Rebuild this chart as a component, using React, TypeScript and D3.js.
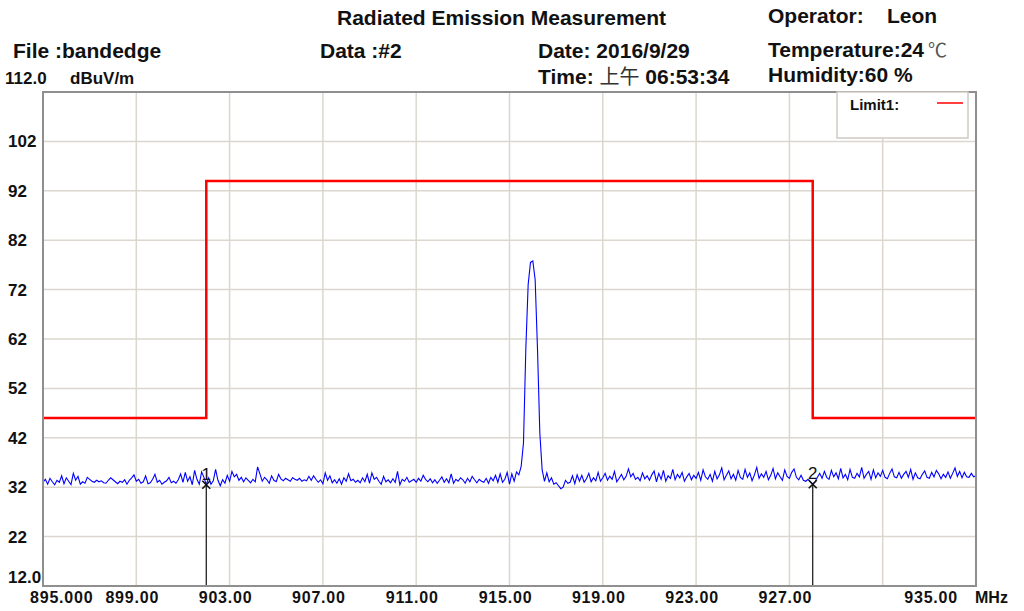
import React from 'react';
import * as d3 from 'd3';

// sweep: 895 MHz .. 935 MHz, 0.1 MHz per point
const startFreq = 895;
const stepFreq = 0.1;

const levels = [
  // 895
  33.0, 33.6, 32.6, 33.8, 33.1, 32.5, 33.4, 33.0, 34.3, 32.7,
  // 896
  33.9, 33.2, 32.5, 34.8, 33.4, 34.2, 32.6, 33.1, 32.8, 34.0,
  // 897
  33.6, 33.2, 33.0, 33.4, 33.1, 33.3, 32.9, 32.8, 33.4, 33.9,
  // 898
  33.5, 33.1, 32.7, 33.2, 33.0, 33.5, 32.6, 33.4, 33.9, 34.5,
  // 899
  33.2, 33.6, 32.8, 33.1, 34.3, 32.7, 32.9, 33.6, 34.6, 33.0,
  // 900
  33.4, 32.6, 33.0, 33.3, 34.0, 32.9, 33.2, 32.8, 33.5, 34.7,
  // 901
  33.0, 35.0, 33.2, 34.1, 32.5, 35.4, 33.6, 32.6, 35.1, 34.0,
  // 902
  32.5, 33.9, 32.6, 33.3, 35.6, 33.4, 32.3, 33.5, 32.8, 34.4,
  // 903
  33.2, 35.2, 34.1, 34.6, 33.4, 34.0, 33.1, 33.9, 33.4, 32.9,
  // 904
  33.6, 33.1, 36.1, 34.7, 33.2, 34.0, 33.5, 32.8, 34.3, 33.4,
  // 905
  33.1, 34.6, 33.7, 33.3, 33.8, 33.5, 33.2, 33.9, 33.6, 33.4,
  // 906
  33.8, 33.2, 33.5, 33.3, 34.2, 33.4, 34.3, 33.6, 33.0, 33.5,
  // 907
  32.7, 34.9, 33.4, 34.3, 32.9, 33.5, 32.8, 33.7, 32.6, 33.9,
  // 908
  33.2, 34.7, 33.3, 33.6, 33.0, 33.4, 32.9, 33.9, 33.1, 34.6,
  // 909
  32.8, 34.9, 33.6, 34.0, 33.2, 32.6, 34.2, 33.1, 33.5, 32.9,
  // 910
  33.7, 33.0, 35.2, 32.5, 33.6, 33.2, 34.0, 33.0, 33.3, 33.6,
  // 911
  33.0, 33.8, 33.2, 34.4, 33.6, 33.1, 33.7, 32.9, 33.5, 32.8,
  // 912
  33.4, 34.1, 33.0, 33.7, 32.9, 34.7, 32.8, 33.6, 33.2, 33.9,
  // 913
  33.5, 32.8, 33.8, 33.1, 34.2, 33.5, 32.9, 33.6, 33.2, 33.0,
  // 914
  33.8, 32.8, 34.0, 33.3, 34.4, 33.0, 34.7, 33.0, 33.6, 35.0,
  // 915
  32.6, 34.7, 33.2, 35.1, 34.5, 36.2, 41.0, 60.0, 73.0, 77.5,
  // 916
  77.8, 74.0, 60.0, 43.0, 35.5, 33.2, 34.9, 33.1, 33.9, 32.6,
  // 917
  32.9, 32.3, 31.7, 32.0, 33.4, 32.8, 33.0, 34.3, 32.7, 34.5,
  // 918
  33.2, 34.4, 33.0, 33.7, 34.8, 33.1, 33.9, 33.3, 35.0, 33.2,
  // 919
  33.9, 34.8, 33.4, 34.2, 33.6, 35.2, 33.1, 33.8, 34.6, 33.5,
  // 920
  34.2, 35.7, 34.1, 34.8, 33.6, 34.0, 33.3, 34.9, 33.7, 34.3,
  // 921
  33.4, 34.5, 35.3, 33.1, 34.8, 33.6, 35.4, 33.2, 34.3, 33.8,
  // 922
  35.6, 33.5, 34.6, 33.9, 35.0, 33.2, 34.1, 34.8, 33.5, 34.4,
  // 923
  33.8, 35.0, 33.4, 35.5, 34.1, 33.6, 34.6, 33.2, 35.2, 33.7,
  // 924
  34.5, 35.9, 33.5, 34.4, 35.3, 33.7, 34.6, 33.4, 35.4, 34.0,
  // 925
  33.6, 35.6, 34.0, 34.9, 33.3, 34.5, 36.0, 33.8, 34.7, 34.0,
  // 926
  35.2, 33.5, 34.4, 35.8, 33.7, 34.9, 34.1, 33.4, 35.5, 34.2,
  // 927
  33.8, 35.0, 35.7, 34.0, 33.5, 34.4, 33.4, 33.2, 33.6, 33.1,
  // 928
  32.6, 33.1, 34.0, 34.8, 33.8, 35.2, 34.0, 33.6, 35.4, 34.1,
  // 929
  34.9, 33.7, 35.8, 33.9, 34.6, 33.5, 35.6, 34.0, 33.8, 34.8,
  // 930
  34.1, 36.0, 33.8, 34.6, 35.2, 33.6, 35.5, 33.9, 34.9, 34.2,
  // 931
  35.4, 34.0, 33.7, 34.8, 35.7, 34.1, 33.9, 35.0, 33.8, 34.6,
  // 932
  35.2, 34.0, 35.6, 33.6, 34.9, 33.9, 33.7, 34.6, 35.3, 34.0,
  // 933
  33.8, 35.0, 34.1, 35.4, 34.7, 33.7, 34.6, 34.0, 35.1, 33.8,
  // 934
  34.8, 35.9, 34.2, 35.2, 33.9, 35.0, 34.1, 34.0, 34.8, 34.1,
  // 935
  34.3,
];

const limitFreqs = [895, 902, 902, 928, 928, 935];
const limitLevels = [46, 46, 94, 94, 46, 46];

const markerFreqs = [902, 928];
const markerNames = ['1', '2'];

const yTicks = [12, 22, 32, 42, 52, 62, 72, 82, 92, 102, 112];
const xGrid = [899, 903, 907, 911, 915, 919, 923, 927, 931];
const xLabels = [895, 899, 903, 907, 911, 915, 919, 923, 927, 935];

const FONT = '"Liberation Sans", Arial, sans-serif';
const CJK = '"Noto Sans CJK SC", sans-serif';

const App: React.FC = () => {
  const x = d3.scaleLinear().domain([895, 935]).range([43, 976]);
  const y = d3.scaleLinear().domain([12, 112]).range([586, 92]);

  const trace: [number, number][] = levels.map((v, i) => [startFreq + i * stepFreq, v]);
  const limit: [number, number][] = limitFreqs.map((f, i) => [f, limitLevels[i]]);

  const line = d3.line<[number, number]>()
    .x(d => x(d[0]))
    .y(d => y(d[1]));

  const fmtX = (f: number, i: number) => (i === 0 ? f.toFixed(3) : f.toFixed(2));
  const fmtY = (v: number) => (v === 12 ? '12.0' : String(v));

  const [x0, x1] = x.range();
  const [y0, y1] = y.range();

  return (
    <svg width={1024} height={611} style={{ position: 'absolute', left: 0, top: 0, background: '#fff' }}>
      {/* header */}
      <g fontFamily={FONT} fontWeight="bold" fontSize={21} fill="#111">
        <text x={337} y={25}>Radiated Emission Measurement</text>
        <text x={768} y={23}>Operator:</text>
        <text x={887} y={23}>Leon</text>
        <text x={13} y={58}>File :bandedge</text>
        <text x={320} y={58}>Data :#2</text>
        <text x={538} y={58}>Date: 2016/9/29</text>
        <text x={768} y={57}>Temperature:24<tspan dx={4} fontFamily={CJK} fontWeight="normal" fill="#555" fontSize={19}>℃</tspan></text>
        <text x={538} y={84}>Time: <tspan fontFamily={CJK} fontWeight="normal" fill="#333" fontSize={20}>上午</tspan> 06:53:34</text>
        <text x={768} y={82}>Humidity:60 %</text>
      </g>

      {/* grid */}
      <g stroke="#dbd7ce" strokeWidth={1.5}>
        {yTicks.slice(1, -1).map(v => (
          <line key={'h' + v} x1={x0} x2={x1} y1={y(v)} y2={y(v)} />
        ))}
        {xGrid.map(f => (
          <line key={'v' + f} x1={x(f)} x2={x(f)} y1={y0} y2={y1} />
        ))}
      </g>

      {/* limit line */}
      <path d={line(limit) ?? ''} fill="none" stroke="#ff0000" strokeWidth={2.5} />

      {/* measured trace */}
      <path d={line(trace) ?? ''} fill="none" stroke="#0000ff" strokeWidth={1.1} />

      {/* markers */}
      {markerFreqs.map((f, i) => {
        const idx = Math.round((f - startFreq) / stepFreq);
        const mx = x(f);
        const my = y(levels[idx]);
        return (
          <g key={'m' + i}>
            <line x1={mx} x2={mx} y1={my} y2={y0} stroke="#111" strokeWidth={1.2} />
            <line x1={mx - 4} x2={mx + 4} y1={my - 4} y2={my + 4} stroke="#111" strokeWidth={1.6} />
            <line x1={mx - 4} x2={mx + 4} y1={my + 4} y2={my - 4} stroke="#111" strokeWidth={1.6} />
            <text x={mx} y={my - 5} textAnchor="middle" fontFamily={FONT} fontSize={17} fill="#111">
              {markerNames[i]}
            </text>
          </g>
        );
      })}

      {/* frame */}
      <rect x={x0} y={y1} width={x1 - x0} height={y0 - y1} fill="none" stroke="#8f8f8f" strokeWidth={2} />

      {/* y labels */}
      <g fontFamily={FONT} fontWeight="bold" fontSize={17} fill="#111">
        {yTicks.slice(0, -1).map(v => (
          <text key={'yl' + v} x={8} y={v === 12 ? y(v) - 3 : y(v) + 6}>{fmtY(v)}</text>
        ))}
        <text x={5} y={y(112) - 8}>112.0</text>
        <text x={70} y={y(112) - 8}>dBuV/m</text>
      </g>

      {/* x labels */}
      <g fontFamily={FONT} fontWeight="bold" fontSize={16} fill="#111">
        {xLabels.map((f, i) => {
          const last = i === xLabels.length - 1;
          const first = i === 0;
          return (
            <text
              key={'xl' + f}
              x={first ? x(f) - 13 : last ? x(f) - 18 : x(f) - 4}
              y={603}
              textAnchor={first ? 'start' : last ? 'end' : 'middle'}
              letterSpacing={0.8}
            >
              {fmtX(f, i)}
            </text>
          );
        })}
        <text x={975} y={603} fontSize={16}>MHz</text>
      </g>

      {/* legend */}
      <g>
        <rect x={837} y={92} width={131} height={46} fill="#fff" stroke="#cfcbc3" strokeWidth={1.5} />
        <text x={850} y={110} fontFamily={FONT} fontWeight="bold" fontSize={15} fill="#111">Limit1:</text>
        <line x1={937} x2={963} y1={103} y2={103} stroke="#ff0000" strokeWidth={1.5} />
      </g>
    </svg>
  );
};

export default App;
